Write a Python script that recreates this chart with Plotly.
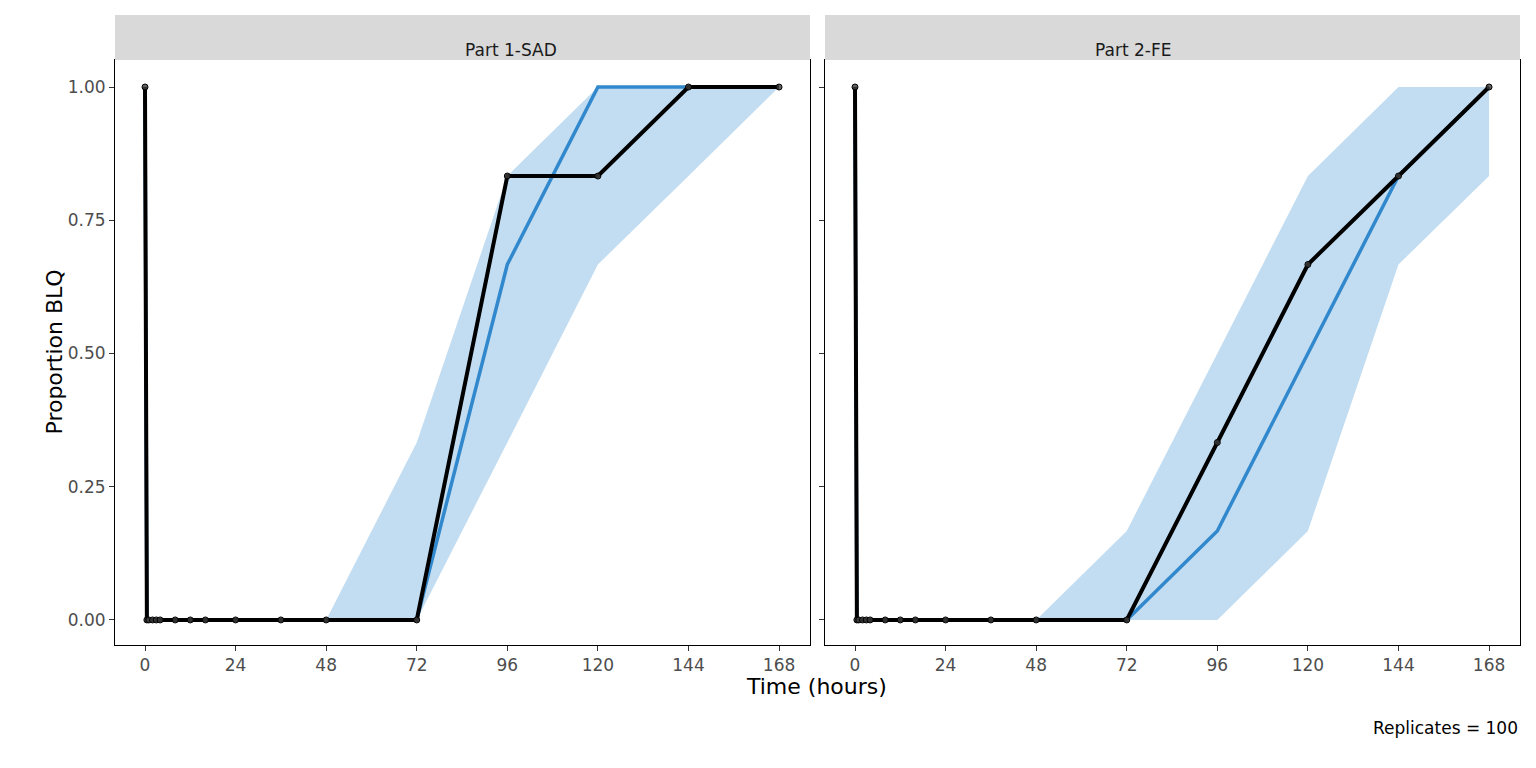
import plotly.graph_objects as go

times = [0, 0.5, 1, 2, 3, 4, 8, 12, 16, 24, 36, 48, 72, 96, 120, 144, 168]

sad_obs = [1, 0, 0, 0, 0, 0, 0, 0, 0, 0, 0, 0, 0, 0.833, 0.833, 1, 1]
sad_med = [1, 0, 0, 0, 0, 0, 0, 0, 0, 0, 0, 0, 0, 0.667, 1, 1, 1]
sad_lo = [1, 0, 0, 0, 0, 0, 0, 0, 0, 0, 0, 0, 0, 0.333, 0.667, 0.833, 1]
sad_hi = [1, 0, 0, 0, 0, 0, 0, 0, 0, 0, 0, 0, 0.333, 0.833, 1, 1, 1]

fe_obs = [1, 0, 0, 0, 0, 0, 0, 0, 0, 0, 0, 0, 0, 0.333, 0.667, 0.833, 1]
fe_med = [1, 0, 0, 0, 0, 0, 0, 0, 0, 0, 0, 0, 0, 0.167, 0.5, 0.833, 1]
fe_lo = [1, 0, 0, 0, 0, 0, 0, 0, 0, 0, 0, 0, 0, 0, 0.167, 0.667, 0.833]
fe_hi = [1, 0, 0, 0, 0, 0, 0, 0, 0, 0, 0, 0, 0.167, 0.5, 0.833, 1, 1]

panels = [("Part 1-SAD", sad_obs, sad_med, sad_lo, sad_hi),
          ("Part 2-FE", fe_obs, fe_med, fe_lo, fe_hi)]

# page body has an 8px margin, so work in a 1520x752 frame offset by 8px
W, H, OFF = 1520, 752, 8


def px(x):
    return (x - OFF) / W


def py(y):
    return 1 - (y - OFF) / H


fig = go.Figure()
domains = [[px(115), px(810)], [px(825), px(1520)]]
y_dom = [py(645), py(60)]

for i, (name, obs, med, lo, hi) in enumerate(panels):
    xa = "x" if i == 0 else "x2"
    ya = "y" if i == 0 else "y2"
    fig.add_trace(go.Scatter(x=times, y=lo, mode="lines", line=dict(width=0),
                             xaxis=xa, yaxis=ya, showlegend=False, hoverinfo="skip"))
    fig.add_trace(go.Scatter(x=times, y=hi, mode="lines", line=dict(width=0), fill="tonexty",
                             fillcolor="rgba(140,190,228,0.53)", xaxis=xa, yaxis=ya, showlegend=False))
    fig.add_trace(go.Scatter(x=times, y=med, mode="lines", line=dict(color="#3288cc", width=3.5),
                             xaxis=xa, yaxis=ya, showlegend=False))
    fig.add_trace(go.Scatter(x=times, y=obs, mode="lines+markers", line=dict(color="black", width=4),
                             marker=dict(size=6, color="rgba(60,60,60,0.8)", line=dict(color="black", width=1)),
                             xaxis=xa, yaxis=ya, showlegend=False))
    fig.add_shape(type="rect", xref="paper", yref="paper", x0=domains[i][0], x1=domains[i][1],
                  y0=py(60), y1=py(15), fillcolor="#d9d9d9", line=dict(width=0))
    fig.add_annotation(text=name, xref="paper", yref="paper", x=sum(domains[i]) / 2,
                       y=py(38), showarrow=False, font=dict(size=17, color="#1a1a1a"))

axis_common = dict(showgrid=False, zeroline=False, showline=True, mirror=True, linecolor="black",
                   linewidth=1, ticks="outside", ticklen=5, tickcolor="#333",
                   tickfont=dict(size=17, color="#4d4d4d"))
fig.update_layout(
    width=W, height=H, margin=dict(l=0, r=0, t=0, b=0),
    plot_bgcolor="white", paper_bgcolor="white",
    font=dict(family="DejaVu Sans"),
    xaxis=dict(domain=domains[0], range=[-7.95, 176.2], tickvals=[0, 24, 48, 72, 96, 120, 144, 168], **axis_common),
    xaxis2=dict(domain=domains[1], range=[-7.95, 176.2], tickvals=[0, 24, 48, 72, 96, 120, 144, 168], **axis_common),
    yaxis=dict(domain=y_dom, range=[-0.047, 1.0507], tickvals=[0, 0.25, 0.5, 0.75, 1],
               ticktext=["0.00", "0.25", "0.50", "0.75", "1.00"], anchor="x", **axis_common),
    yaxis2=dict(domain=y_dom, range=[-0.047, 1.0507], tickvals=[0, 0.25, 0.5, 0.75, 1],
                showticklabels=False, anchor="x2", **axis_common),
)
fig.add_annotation(text="Proportion BLQ", xref="paper", yref="paper", x=px(40), y=py(352),
                   textangle=-90, showarrow=False, font=dict(size=22, color="black"))
fig.add_annotation(text="Time (hours)", xref="paper", yref="paper", x=px(817), y=py(701),
                   showarrow=False, font=dict(size=22, color="black"))
fig.add_annotation(text="Replicates = 100", xref="paper", yref="paper", x=px(1520), y=py(740),
                   xanchor="right", showarrow=False, font=dict(size=17, color="black"))

fig.write_html("out.html")
